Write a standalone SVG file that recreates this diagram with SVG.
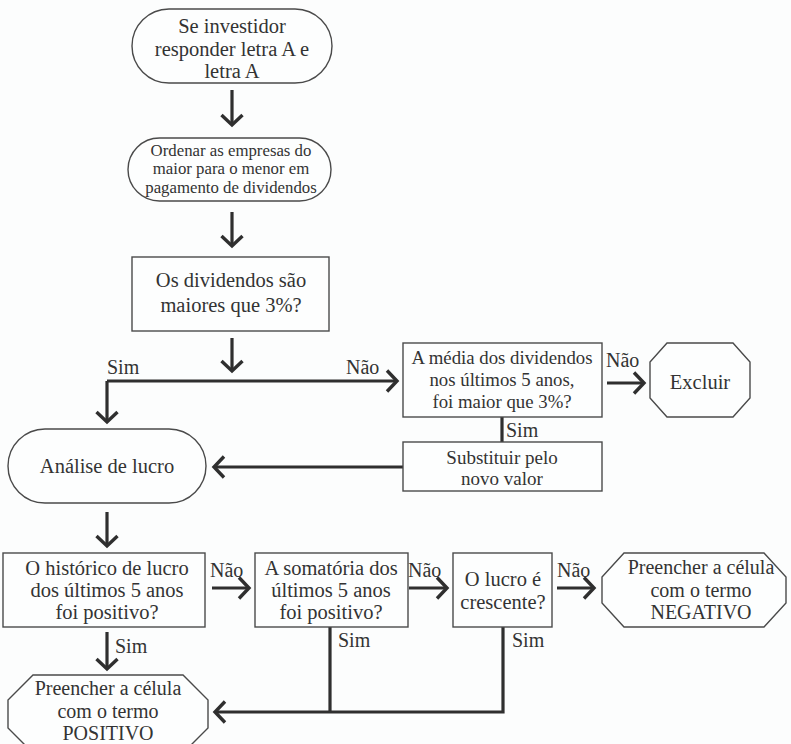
<svg xmlns="http://www.w3.org/2000/svg" width="791" height="744" viewBox="0 0 791 744">
  <defs>
    <style>
      .box { fill: #fdfefe; stroke: #4a4a4a; stroke-width: 1.4; }
      .t { font-family: "Liberation Serif", "Times New Roman", serif; fill: #333; text-anchor: middle; }
      .lbl { font-family: "Liberation Serif", "Times New Roman", serif; fill: #333; font-size: 20px; }
      .ln { fill: none; stroke: #2f2f2f; stroke-width: 3.2; stroke-linecap: butt; stroke-linejoin: miter; }
      .arr { marker-end: url(#head); }
    </style>
    <marker id="head" viewBox="-14 -14 28 28" markerWidth="28" markerHeight="28" refX="0" refY="0" orient="auto" markerUnits="userSpaceOnUse">
      <path d="M-10,-10.5 L0,0 L-10,10.5" fill="none" stroke="#2f2f2f" stroke-width="3.4" stroke-linejoin="miter"/>
    </marker>
  </defs>

  <rect x="0" y="0" width="791" height="744" fill="#fcfdfd"/>

  <!-- connectors -->
  <g id="connectors">
    <path class="ln arr" d="M232,90 V125"/>
    <path class="ln arr" d="M232,212 V246"/>
    <path class="ln arr" d="M232,338 V371"/>
    <path class="ln arr" d="M107,381 H397"/>
    <path class="ln arr" d="M107,381 V422"/>
    <path class="ln arr" d="M607,383 H644"/>
    <path class="ln" d="M502,417 V442"/>
    <path class="ln arr" d="M403,467 H214"/>
    <path class="ln arr" d="M107,512 V546"/>
    <path class="ln arr" d="M212,588 H249"/>
    <path class="ln arr" d="M409,588 H447"/>
    <path class="ln arr" d="M557,588 H594"/>
    <path class="ln arr" d="M107,632 V669"/>
    <path class="ln" d="M330,627 V712"/>
    <path class="ln arr" d="M503,627 V712 H215"/>

    <text class="lbl" x="107" y="374">Sim</text>
    <text class="lbl" x="346" y="374">Não</text>
    <text class="lbl" x="606" y="367">Não</text>
    <text class="lbl" x="506" y="437">Sim</text>
    <text class="lbl" x="210" y="577">Não</text>
    <text class="lbl" x="408" y="577">Não</text>
    <text class="lbl" x="557" y="577">Não</text>
    <text class="lbl" x="115" y="653">Sim</text>
    <text class="lbl" x="338" y="647">Sim</text>
    <text class="lbl" x="512" y="647">Sim</text>
  </g>

  <g id="n-inicio">
    <rect class="box" x="132" y="9" width="200" height="74" rx="37" ry="37"/>
    <text class="t" font-size="20.5"><tspan x="232" y="33">Se investidor</tspan><tspan x="232" y="55.5">responder letra A e</tspan><tspan x="232" y="78">letra A</tspan></text>
  </g>

  <g id="n-ordenar">
    <rect class="box" x="128" y="138" width="203" height="63" rx="31.5" ry="31.5"/>
    <text class="t" font-size="16.8"><tspan x="231" y="155.5">Ordenar as empresas do</tspan><tspan x="231" y="174">maior para o menor em</tspan><tspan x="231" y="192.5">pagamento de dividendos</tspan></text>
  </g>

  <g id="n-dividendos">
    <rect class="box" x="132" y="257" width="197" height="74"/>
    <text class="t" font-size="20.5"><tspan x="231" y="287">Os dividendos são</tspan><tspan x="231" y="312">maiores que 3%?</tspan></text>
  </g>

  <g id="n-media">
    <rect class="box" x="403" y="343" width="199" height="74"/>
    <text class="t" font-size="18.8"><tspan x="502" y="364">A média dos dividendos</tspan><tspan x="502" y="386">nos últimos 5 anos,</tspan><tspan x="502" y="408">foi maior que 3%?</tspan></text>
  </g>

  <g id="n-excluir">
    <polygon class="box" points="667,343 733,343 750,362 750,398 733,417 667,417 650,398 650,362"/>
    <text class="t" font-size="20.5" x="700" y="389">Excluir</text>
  </g>

  <g id="n-substituir">
    <rect class="box" x="403" y="442" width="199" height="49"/>
    <text class="t" font-size="19"><tspan x="502" y="464">Substituir pelo</tspan><tspan x="502" y="485">novo valor</tspan></text>
  </g>

  <g id="n-analise">
    <rect class="box" x="8" y="429" width="198" height="74" rx="37" ry="37"/>
    <text class="t" font-size="20.5" x="107" y="473">Análise de lucro</text>
  </g>

  <g id="n-historico">
    <rect class="box" x="3" y="553" width="202" height="74"/>
    <text class="t" font-size="20.5"><tspan x="107" y="575">O histórico de lucro</tspan><tspan x="107" y="597">dos últimos 5 anos</tspan><tspan x="107" y="619">foi positivo?</tspan></text>
  </g>

  <g id="n-somatoria">
    <rect class="box" x="255" y="553" width="153" height="74"/>
    <text class="t" font-size="20.5"><tspan x="331" y="575">A somatória dos</tspan><tspan x="331" y="597">últimos 5 anos</tspan><tspan x="331" y="619">foi positivo?</tspan></text>
  </g>

  <g id="n-crescente">
    <rect class="box" x="453" y="553" width="99" height="74"/>
    <text class="t" font-size="20.5"><tspan x="503" y="586">O lucro é</tspan><tspan x="503" y="609">crescente?</tspan></text>
  </g>

  <g id="n-negativo">
    <polygon class="box" points="624,553 764,553 786,577 786,603 764,627 624,627 602,603 602,577"/>
    <text class="t" font-size="20"><tspan x="701" y="574">Preencher a célula</tspan><tspan x="701" y="597">com o termo</tspan><tspan x="701" y="619">NEGATIVO</tspan></text>
  </g>

  <g id="n-positivo">
    <polygon class="box" points="33,675 183,675 208,700 208,728 183,753 33,753 8,728 8,700"/>
    <text class="t" font-size="20"><tspan x="108" y="695">Preencher a célula</tspan><tspan x="108" y="717.5">com o termo</tspan><tspan x="108" y="739.5">POSITIVO</tspan></text>
  </g>
</svg>
